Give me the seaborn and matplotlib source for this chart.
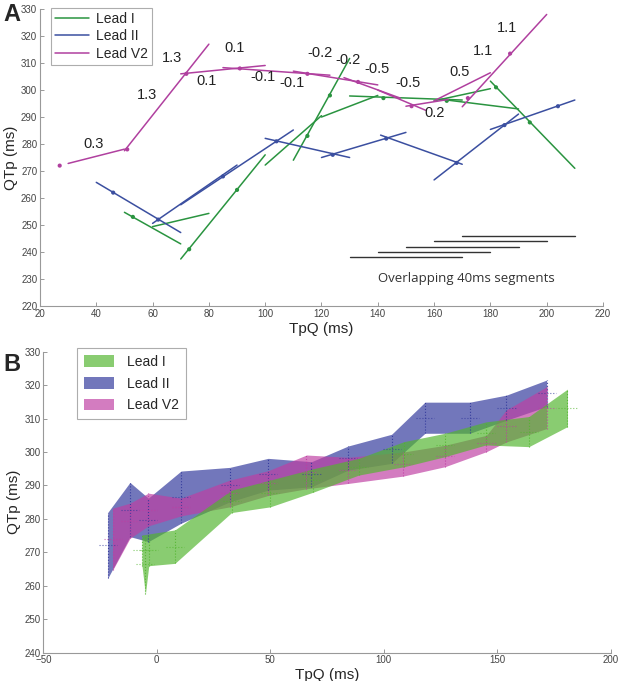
import matplotlib
matplotlib.use("Agg")
import matplotlib.pyplot as plt
import seaborn as sns
import numpy as np
import pandas as pd

# ---- panel A: regression lines over 40 ms windows (x0, x1, y0, y1) ----
leadI_segs = [(50, 70, 254.7, 243.0), (60, 80, 249.4, 254.3), (70, 100, 237.4, 276.0),
              (100, 120, 272.2, 290.5), (110, 130, 274.0, 311.7), (120, 140, 290.0, 298.0),
              (130, 170, 297.8, 296.3), (160, 180, 296.0, 300.5), (163, 190, 296.5, 293.0),
              (180, 210, 303.3, 271.0)]
leadII_segs = [(40, 70, 265.8, 247.2), (60, 90, 250.6, 272.2), (70, 110, 257.5, 285.2),
               (100, 130, 282.1, 275.0), (120, 150, 275.0, 284.3), (141, 170, 283.3, 272.5),
               (160, 190, 266.7, 291.1), (180, 210, 285.4, 296.3)]
leadV2_segs = [(30, 50, 272.8, 278.1), (50, 80, 277.5, 317.0), (70, 100, 306.0, 309.1),
               (85, 123, 308.3, 305.5), (110, 140, 307.0, 301.9), (128, 148, 304.6, 297.0),
               (140, 157, 300.0, 292.5), (150, 165, 294.0, 296.5), (160, 180, 296.0, 306.4),
               (170, 200, 293.8, 328.0)]

leadI_dot_x = [53, 73, 90, 115, 123, 142, 164.5, 182, 194]
leadI_dot_y = [253, 241, 263, 283, 298, 297, 296, 301, 288]
leadII_dot_x = [46, 62, 85, 104, 124, 143, 168, 185, 204]
leadII_dot_y = [262, 252, 268, 281, 276, 282, 273, 287, 294]
leadV2_dot_x = [27, 51, 72, 91, 115, 133, 152, 172, 187]
leadV2_dot_y = [272, 278, 306, 308, 306, 303, 294, 297, 313.5]

slope_labels = ["0.3", "1.3", "1.3", "0.1", "0.1", "-0.1", "-0.1", "-0.2", "-0.2",
                "-0.5", "-0.5", "0.2", "0.5", "1.1", "1.1"]
slope_x = [39, 58, 67, 89, 79, 99.3, 109.4, 119.5, 129.5, 139.6, 150.9, 160.3, 169, 177.5, 185.8]
slope_y = [280, 298, 312, 315.6, 303.3, 304.8, 302.7, 313.6, 311.1, 307.8, 302.5, 291.4, 306.8, 314.6, 322.8]

window_start = [130, 140, 150, 160, 170]
window_y = [238, 240, 242, 244, 246]
window_len = 40

# ---- panel B: bands (x, upper, lower) ----
bI_x = [-6.5, -5, -3.5, 8, 33, 50, 69, 89, 109, 127, 145, 164, 181]
bI_up = [275.2, 275.3, 275.5, 276.7, 288.6, 291.6, 295.0, 298.1, 303.1, 305.6, 309.0, 310.6, 318.8]
bI_lo = [266.0, 257.5, 266.0, 266.7, 281.9, 283.6, 288.0, 293.1, 295.6, 298.6, 302.1, 301.6, 307.6]

bII_x = [-21.6, -11.8, -3.7, 10.7, 32.2, 49.1, 68.2, 84.4, 103.5, 118.2, 138, 154.1, 171.8]
bII_up = [281.9, 290.9, 286.2, 294.3, 295.4, 298.1, 297.1, 301.8, 305.3, 314.9, 314.9, 317.0, 321.5]
bII_lo = [262.2, 274.7, 273.2, 278.7, 285.1, 288.6, 289.6, 294.6, 296.6, 305.6, 305.6, 309.5, 313.6]

bV2_x = [-19.4, -11.8, -3.7, 10.7, 32.2, 49.1, 66, 84.4, 108.6, 127, 145.3, 154.1, 171.8]
bV2_up = [283.2, 284.7, 287.7, 286.2, 291.6, 294.4, 299.1, 298.4, 300.0, 302.0, 305.0, 312.6, 319.5]
bV2_lo = [264.7, 274.2, 277.9, 280.9, 283.6, 287.0, 289.0, 290.6, 292.8, 295.6, 300.1, 303.0, 307.0]

leads = ["Lead I", "Lead II", "Lead V2"]
line_colors = {"Lead I": "#2a9440", "Lead II": "#3b4fa0", "Lead V2": "#b0409f"}
band_colors = {"Lead I": "#52b52e", "Lead II": "#30379b", "Lead V2": "#bf3ea2"}

sns.set_theme(style="white")
plt.rcParams["font.family"] = ["Liberation Sans", "DejaVu Sans"]

fig = plt.figure(figsize=(6.18, 6.81), dpi=100)
axA = fig.add_axes([0.0647, 0.5507, 0.911, 0.436])
axB = fig.add_axes([0.070, 0.0416, 0.918, 0.442])

# build long table of segments
rows = []
seg_id = 0
for lead, segs in zip(leads, [leadI_segs, leadII_segs, leadV2_segs]):
    for x0, x1, y0, y1 in segs:
        rows.append({"x": x0, "y": y0, "lead": lead, "seg": seg_id})
        rows.append({"x": x1, "y": y1, "lead": lead, "seg": seg_id})
        seg_id += 1
segdf = pd.DataFrame(rows)

dotdf = pd.DataFrame({
    "x": leadI_dot_x + leadII_dot_x + leadV2_dot_x,
    "y": leadI_dot_y + leadII_dot_y + leadV2_dot_y,
    "lead": ["Lead I"] * len(leadI_dot_x) + ["Lead II"] * len(leadII_dot_x) + ["Lead V2"] * len(leadV2_dot_x),
})

sns.lineplot(data=segdf, x="x", y="y", hue="lead", units="seg", estimator=None,
             palette=line_colors, hue_order=leads, sort=False, lw=1.1, ax=axA)
sns.scatterplot(data=dotdf, x="x", y="y", hue="lead", palette=line_colors, hue_order=leads,
                s=9, linewidth=0, legend=False, ax=axA)

for t, x, y in zip(slope_labels, slope_x, slope_y):
    axA.text(x, y, t, fontsize=10.5, ha="center", va="center", color="#222222")

for xs, y in zip(window_start, window_y):
    axA.plot([xs, xs + window_len], [y, y], color="#333333", lw=1.0)
axA.text(171.6, 230, "Overlapping 40ms segments", fontsize=9.5, ha="center", va="center",
         color="#333333", family=["Open Sans", "DejaVu Sans"])

handles, labels = axA.get_legend_handles_labels()
legA = axA.legend(handles, labels, loc="upper left", bbox_to_anchor=(0.02, 1.005), fontsize=10,
                  frameon=True, fancybox=False, edgecolor="#999999", handlelength=2.4,
                  borderpad=0.3, labelspacing=0.25, handletextpad=0.5, borderaxespad=0)
legA.get_frame().set_linewidth(0.8)

axA.set_xlim(20, 220)
axA.set_ylim(220, 330)
axA.set_xticks(np.arange(20, 221, 20))
axA.set_yticks(np.arange(220, 331, 10))
axA.set_xlabel("TpQ (ms)", fontsize=11, labelpad=2)
axA.set_ylabel("QTp (ms)", fontsize=11, labelpad=2)

# panel B bands
for lead, bx, bu, bl in [("Lead II", bII_x, bII_up, bII_lo),
                         ("Lead V2", bV2_x, bV2_up, bV2_lo),
                         ("Lead I", bI_x, bI_up, bI_lo)]:
    axB.fill_between(bx, bl, bu, color=band_colors[lead], alpha=0.68, lw=0, label=lead)
    bx = np.array(bx)
    bu = np.array(bu)
    bl = np.array(bl)
    axB.vlines(bx, bl, bu, colors=band_colors[lead], linestyles=":", lw=0.8, alpha=0.9)
    mid = (bu + bl) / 2
    axB.hlines(mid, bx - 4, bx + 4, colors=band_colors[lead], linestyles=":", lw=0.8, alpha=0.7)

hB, lB = axB.get_legend_handles_labels()
order = [lB.index(l) for l in leads]
legB = axB.legend([hB[i] for i in order], leads, loc="upper left", bbox_to_anchor=(0.059, 1.012),
                  fontsize=10, frameon=True, fancybox=False, edgecolor="#999999",
                  handlelength=2.2, handleheight=0.9, borderpad=0.5, labelspacing=0.55,
                  handletextpad=0.9, borderaxespad=0)
legB.get_frame().set_linewidth(0.8)

axB.set_xlim(-50, 200)
axB.set_ylim(240, 330)
axB.set_xticks(np.arange(-50, 201, 50))
axB.set_yticks(np.arange(240, 331, 10))
axB.set_xlabel("TpQ (ms)", fontsize=11, labelpad=2)
axB.set_ylabel("QTp (ms)", fontsize=11, labelpad=2)

for ax in (axA, axB):
    sns.despine(ax=ax)
    for s in ("left", "bottom"):
        ax.spines[s].set_color("#999999")
        ax.spines[s].set_linewidth(0.8)
    ax.tick_params(direction="in", length=3, width=0.7, color="#999999",
                   labelsize=7, labelcolor="#444444", pad=2, left=True, bottom=True)

fig.text(0.005, 0.995, "A", fontsize=17, fontweight="bold", va="top", ha="left")
fig.text(0.005, 0.482, "B", fontsize=17, fontweight="bold", va="top", ha="left")

fig.savefig("out.png", dpi=100)
